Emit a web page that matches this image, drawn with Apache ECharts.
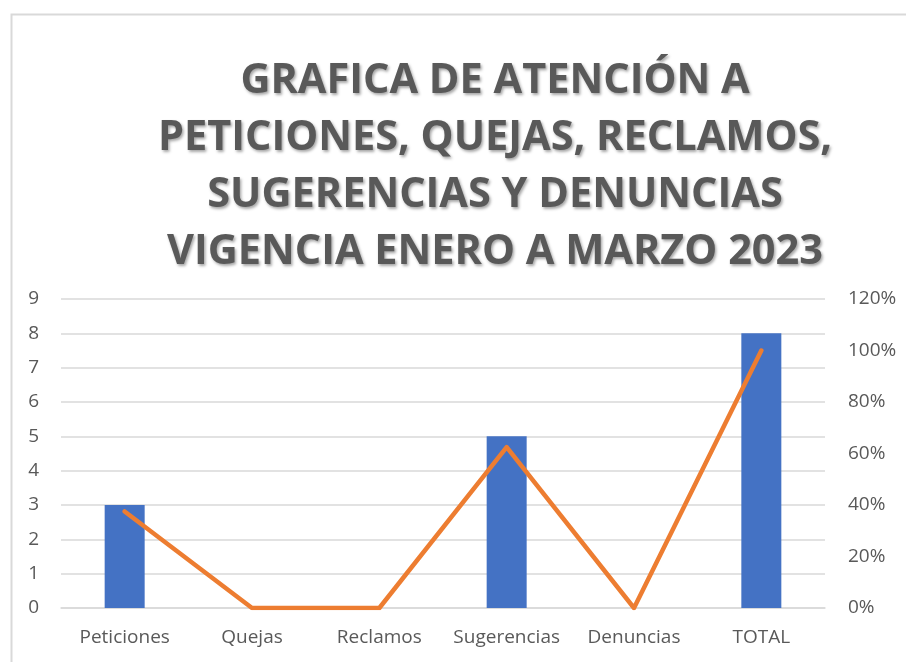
<!DOCTYPE html>
<html>
<head>
<meta charset="utf-8">
<script src="https://cdn.jsdelivr.net/npm/echarts@6/dist/echarts.min.js"></script>
<style>html,body{margin:0;padding:0;background:#fff;}#c{width:906px;height:662px;}</style>
</head>
<body>
<div id="c"></div>
<script>
var titleText = 'GRAFICA DE ATENCIÓN A\nPETICIONES, QUEJAS, RECLAMOS,\nSUGERENCIAS Y DENUNCIAS\nVIGENCIA ENERO A MARZO 2023';
var categories = ['Peticiones', 'Quejas', 'Reclamos', 'Sugerencias', 'Denuncias', 'TOTAL'];
var counts = [3, 0, 0, 5, 0, 8];
var percents = [37.5, 0, 0, 62.5, 0, 100];
var leftTicks = {min: 0, max: 9, interval: 1};
var rightTicks = {min: 0, max: 120, interval: 20};

var chart = echarts.init(document.getElementById('c'));
var labelColor = '#595959';
var fontFam = '"Open Sans", sans-serif';
chart.setOption({
  animation: false,
  backgroundColor: '#fff',
  graphic: [{
    type: 'rect', left: 9, top: 12,
    shape: {width: 1000, height: 1000},
    style: {fill: 'none', stroke: '#d9d9d9', lineWidth: 2},
    silent: true
  }],
  title: {
    text: titleText,
    left: 490, top: 48, textAlign: 'center',
    textStyle: {
      color: '#595959', fontFamily: fontFam, fontWeight: 'bold',
      fontSize: 41.5, lineHeight: 57,
      textShadowColor: 'rgba(0,0,0,0.35)', textShadowBlur: 3,
      textShadowOffsetX: 1.5, textShadowOffsetY: 2
    }
  },
  grid: {left: 61, right: 81, top: 299, bottom: 54, containLabel: false},
  xAxis: {
    type: 'category', data: categories,
    axisLine: {lineStyle: {color: '#d9d9d9', width: 1.5}},
    axisTick: {show: false},
    axisLabel: {color: labelColor, fontFamily: fontFam, fontSize: 19, margin: 20, interval: 0}
  },
  yAxis: [{
    type: 'value', min: leftTicks.min, max: leftTicks.max, interval: leftTicks.interval,
    axisLine: {show: false}, axisTick: {show: false},
    axisLabel: {color: labelColor, fontFamily: fontFam, fontSize: 19, margin: 22},
    splitLine: {lineStyle: {color: '#d9d9d9', width: 1.5}}
  }, {
    type: 'value', min: rightTicks.min, max: rightTicks.max, interval: rightTicks.interval,
    position: 'right',
    axisLine: {show: false}, axisTick: {show: false},
    axisLabel: {color: labelColor, fontFamily: fontFam, fontSize: 19, margin: 23, formatter: '{value}%'},
    splitLine: {show: false}
  }],
  series: [{
    type: 'bar', data: counts, barWidth: 40, yAxisIndex: 0,
    itemStyle: {color: '#4472C4'}
  }, {
    type: 'line', data: percents, yAxisIndex: 1,
    symbol: 'none',
    lineStyle: {color: '#ED7D31', width: 4.5, cap: 'round', join: 'round'},
    z: 3
  }]
});
</script>
</body>
</html>
